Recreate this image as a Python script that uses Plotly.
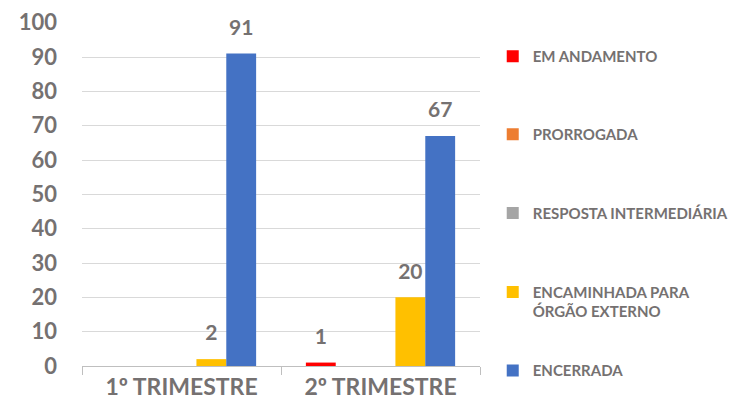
import plotly.graph_objects as go

categories = ["1º TRIMESTRE", "2º TRIMESTRE"]
series_names = ["EM ANDAMENTO", "PRORROGADA", "RESPOSTA INTERMEDIÁRIA",
                "ENCAMINHADA PARA<br>ÓRGÃO EXTERNO", "ENCERRADA"]
em_andamento = [0, 1]
prorrogada = [0, 0]
resposta_intermediaria = [0, 0]
encaminhada = [2, 20]
encerrada = [91, 67]
series_values = [em_andamento, prorrogada, resposta_intermediaria, encaminhada, encerrada]
colors = ["#FF0000", "#ED7D31", "#A5A5A5", "#FFC000", "#4472C4"]
y_ticks = list(range(0, 101, 10))

FONT = "Lato"
TXT = "#757171"

# legend placement (paper coords), one legend per series
legend_y = [0.948, 0.721, 0.492, 0.262, 0.034]
legend_ids = ["legend", "legend2", "legend3", "legend4", "legend5"]

fig = go.Figure()
for i, (name, vals, col) in enumerate(zip(series_names, series_values, colors)):
    fig.add_trace(go.Bar(
        x=categories, y=vals, name=name, marker_color=col,
        marker_line_width=0, legend=legend_ids[i],
    ))
for i, vals in enumerate(series_values):
    fig.add_trace(go.Scatter(
        x=categories, y=vals, mode="markers+text",
        text=[str(v) if v else "" for v in vals],
        textposition="top center",
        marker=dict(size=20, opacity=0),
        textfont=dict(family=FONT, size=21, color=TXT, weight="bold"),
        showlegend=False, hoverinfo="skip", cliponaxis=False,
    ))

legend_common = dict(
    x=1.032, xanchor="left", yanchor="top", valign="top",
    font=dict(family=FONT, size=15, color=TXT, weight="bold"),
    itemwidth=30, bgcolor="rgba(0,0,0,0)",
)
layout_legends = {}
for lid, ly in zip(legend_ids, legend_y):
    layout_legends[lid] = dict(legend_common, y=ly)

fig.update_layout(
    width=738, height=404,
    margin=dict(l=74, r=266, t=14, b=46, autoexpand=False),
    paper_bgcolor="white", plot_bgcolor="white",
    barmode="group", bargap=0.25, bargroupgap=0,
    scattermode="group", scattergap=0.25,
    font=dict(family=FONT, color=TXT),
    **layout_legends,
)
fig.update_xaxes(
    showline=True, linecolor="#BFBFBF", linewidth=1,
    ticks="outside", tickson="boundaries", ticklen=8, tickcolor="#BFBFBF",
    tickfont=dict(family=FONT, size=23, color=TXT, weight="bold"),
    showgrid=False, automargin=False,
)
fig.update_yaxes(
    range=[0, 100.2], tickvals=y_ticks, showline=False,
    gridcolor="#D9D9D9", gridwidth=1, zeroline=False,
    tickfont=dict(family=FONT, size=22, color=TXT, weight="bold"),
    ticks="", ticklabelstandoff=24, automargin=False,
)
fig.write_html("out.html")
